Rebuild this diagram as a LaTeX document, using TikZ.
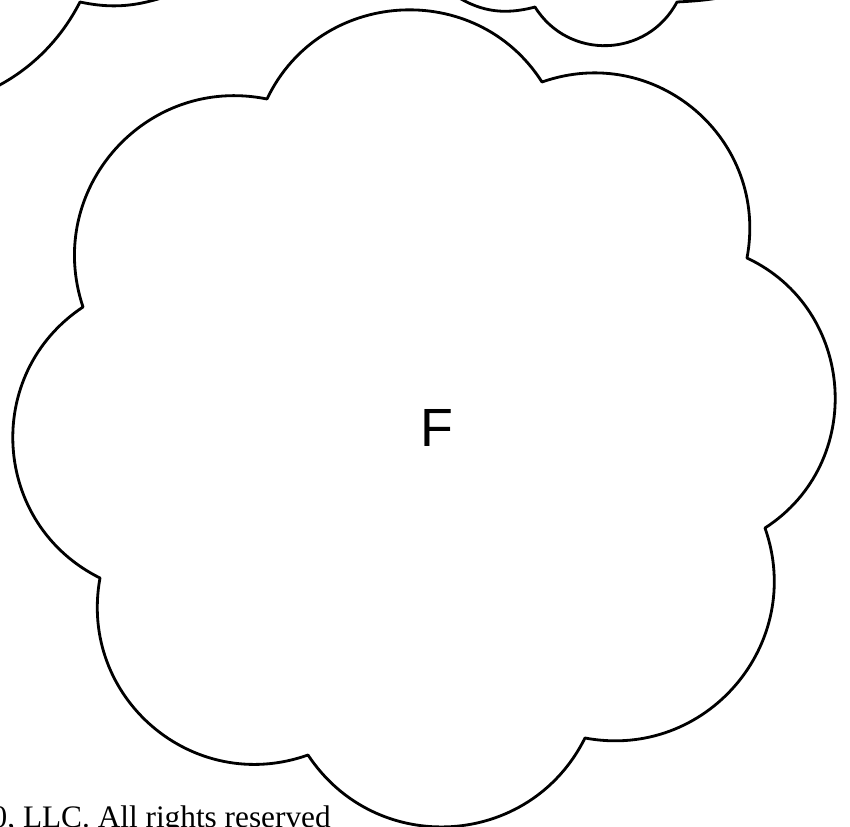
\documentclass[tikz,border=0pt]{standalone}
\usepackage{fontspec}
\setmainfont{Liberation Serif}
\newfontfamily\labelfont{Liberation Sans}

\tikzset{
  outline/.style={draw=black,line width=0.8pt,line join=round,line cap=round},
  lobe/.style={bend left=#1,looseness=1.14},
  lobe/.default=60
}

\begin{document}
\begin{tikzpicture}[x=0.01cm,y=-0.01cm]

  % frame of the cut-out (pixel units, y down)
  \fill[white] (0,0) rectangle (850,827);
  \useasboundingbox (0,0) rectangle (850,827);
  \clip (0,0) rectangle (850,827);

  % =====================================================================
  % MAIN CLOUD -- eight lobes between eight cusps
  % =====================================================================
  \coordinate (c1) at (267,99);
  \coordinate (c2) at (542,82);
  \coordinate (c3) at (747,258);
  \coordinate (c4) at (765,528);
  \coordinate (c5) at (585,738);
  \coordinate (c6) at (308,755);
  \coordinate (c7) at (100,578);
  \coordinate (c8) at (83,307);

  \draw[outline] (c1) to[lobe=61] (c2) to[lobe] (c3) to[lobe=61] (c4)
        to[lobe] (c5) to[lobe] (c6) to[lobe] (c7) to[lobe] (c8)
        to[lobe] (c1);

  % cloud label
  \node[font=\labelfont\fontsize{15.3}{18}\selectfont,inner sep=0pt]
        (fLabel) at (437,428) {F};

  % =====================================================================
  % NEIGHBOUR CLOUDS -- only their lower edges show at the top
  % =====================================================================
  % left neighbour
  \coordinate (p1) at (80,2);
  \draw[outline] (-43,102) to[out=15,in=243,looseness=0.9] (p1)
        to[out=-12,in=200] (185,-10);

  % right neighbour
  \coordinate (q1) at (535,7);
  \coordinate (q2) at (677,2);
  \draw[outline] (450,-8) to[out=-35,in=195] (q1)
        to[bend right=60,looseness=1.14] (q2)
        to[out=3,in=195] (745,-8);

  % footer, cut off at the left and bottom
  \node[anchor=base west,inner sep=0pt,font=\fontsize{8.9}{10}\selectfont]
        (rights) at (-9,828) {0, LLC. All rights reserved};

\end{tikzpicture}
\end{document}
